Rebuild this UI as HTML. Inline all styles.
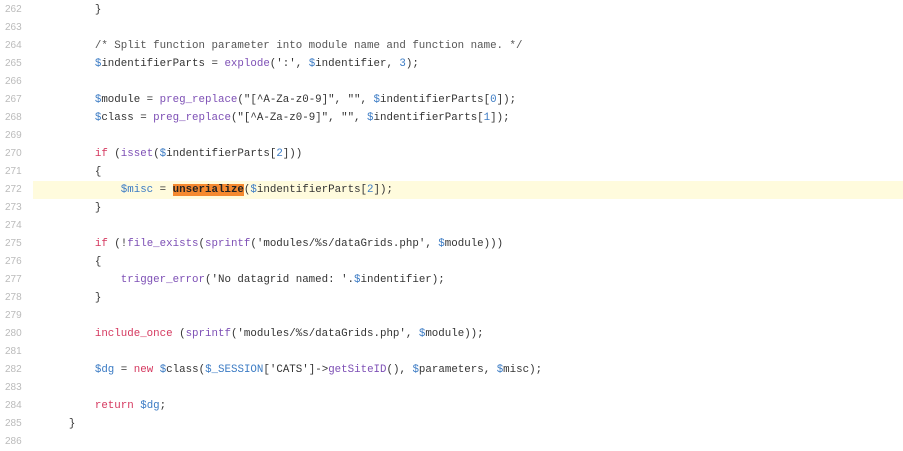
<!DOCTYPE html>
<html><head><meta charset="utf-8"><style>
body{margin:0;width:903px;height:451px;background:#fff;overflow:hidden;position:relative;font-family:"Liberation Mono",monospace;}
.l{position:absolute;left:0;width:903px;height:18px;line-height:18px;font-size:10.8px;color:#333;white-space:pre;}
.n{position:absolute;left:5px;width:22px;color:#bbb;font-family:"Liberation Sans",sans-serif;font-size:10px;}
.c{position:absolute;left:43px;}
.hl{background:#fffbdd;left:33px;width:870px;}
.d{color:#3b7bc4}.k{color:#d5385f}.f{color:#7d4fb5}.m{color:#3b7bc4}.cm{color:#555}
.o{background:#f5892f;color:#222;font-weight:bold}
</style></head><body>
<div class="hl l" style="top:181px"></div>
<div class="l" style="top:1px"><span class="n">262</span><span class="c">        }</span></div>
<div class="l" style="top:19px"><span class="n">263</span></div>
<div class="l" style="top:37px"><span class="n">264</span><span class="c cm">        /* Split function parameter into module name and function name. */</span></div>
<div class="l" style="top:55px"><span class="n">265</span><span class="c">        <span class="d">$</span>indentifierParts = <span class="f">explode</span>(':', <span class="d">$</span>indentifier, <span class="m">3</span>);</span></div>
<div class="l" style="top:73px"><span class="n">266</span></div>
<div class="l" style="top:91px"><span class="n">267</span><span class="c">        <span class="d">$</span>module = <span class="f">preg_replace</span>("[^A-Za-z0-9]", "", <span class="d">$</span>indentifierParts[<span class="m">0</span>]);</span></div>
<div class="l" style="top:109px"><span class="n">268</span><span class="c">        <span class="d">$</span>class = <span class="f">preg_replace</span>("[^A-Za-z0-9]", "", <span class="d">$</span>indentifierParts[<span class="m">1</span>]);</span></div>
<div class="l" style="top:127px"><span class="n">269</span></div>
<div class="l" style="top:145px"><span class="n">270</span><span class="c">        <span class="k">if</span> (<span class="f">isset</span>(<span class="d">$</span>indentifierParts[<span class="m">2</span>]))</span></div>
<div class="l" style="top:163px"><span class="n">271</span><span class="c">        {</span></div>
<div class="l" style="top:181px"><span class="n">272</span><span class="c">            <span class="d">$misc</span> = <span class="o">unserialize</span>(<span class="d">$</span>indentifierParts[<span class="m">2</span>]);</span></div>
<div class="l" style="top:199px"><span class="n">273</span><span class="c">        }</span></div>
<div class="l" style="top:217px"><span class="n">274</span></div>
<div class="l" style="top:235px"><span class="n">275</span><span class="c">        <span class="k">if</span> (!<span class="f">file_exists</span>(<span class="f">sprintf</span>('modules/%s/dataGrids.php', <span class="d">$</span>module)))</span></div>
<div class="l" style="top:253px"><span class="n">276</span><span class="c">        {</span></div>
<div class="l" style="top:271px"><span class="n">277</span><span class="c">            <span class="f">trigger_error</span>('No datagrid named: '.<span class="d">$</span>indentifier);</span></div>
<div class="l" style="top:289px"><span class="n">278</span><span class="c">        }</span></div>
<div class="l" style="top:307px"><span class="n">279</span></div>
<div class="l" style="top:325px"><span class="n">280</span><span class="c">        <span class="k">include_once</span> (<span class="f">sprintf</span>('modules/%s/dataGrids.php', <span class="d">$</span>module));</span></div>
<div class="l" style="top:343px"><span class="n">281</span></div>
<div class="l" style="top:361px"><span class="n">282</span><span class="c">        <span class="d">$dg</span> = <span class="k">new</span> <span class="d">$</span>class(<span class="d">$_SESSION</span>['CATS']-><span class="f">getSiteID</span>(), <span class="d">$</span>parameters, <span class="d">$</span>misc);</span></div>
<div class="l" style="top:379px"><span class="n">283</span></div>
<div class="l" style="top:397px"><span class="n">284</span><span class="c">        <span class="k">return</span> <span class="d">$dg</span>;</span></div>
<div class="l" style="top:415px"><span class="n">285</span><span class="c">    }</span></div>
<div class="l" style="top:433px"><span class="n">286</span></div>
</body></html>
